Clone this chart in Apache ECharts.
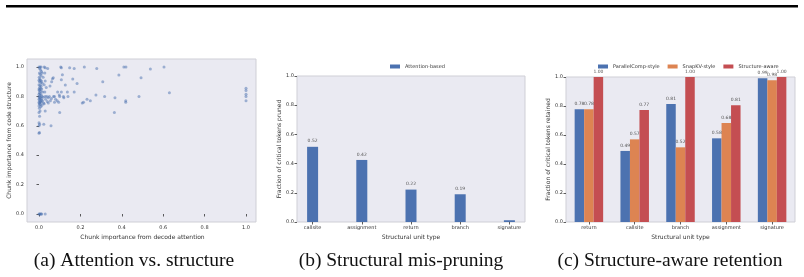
<!DOCTYPE html>
<html>
<head>
<meta charset="utf-8">
<script src="https://cdn.jsdelivr.net/npm/echarts@6/dist/echarts.min.js"></script>
<style>
  html, body { margin: 0; padding: 0; background: #fff; }
  #main { width: 804px; height: 277px; }
</style>
</head>
<body>
<div id="main"></div>
<script>
// (a) chunk importance: [decode attention, code structure]
var attnVsStruct = [
    [0, 1.0], [0.005, 1.0], [0.01, 1.0], [0.003, 0.99], [0.008, 0.98], [0.012, 0.97], [0.002, 0.96],
    [0.015, 0.96], [0.006, 0.95], [0.01, 0.94], [0.001, 0.93], [0.02, 0.93], [0.004, 0.92], [0, 0.91],
    [0.007, 0.91], [0.012, 0.905], [0.002, 0.9], [0.009, 0.895], [0.016, 0.89], [0, 0.88], [0.005, 0.875],
    [0.011, 0.87], [0.003, 0.86], [0.008, 0.855], [0, 0.85], [0.013, 0.85], [0.004, 0.845], [0.001, 0.84],
    [0.009, 0.835], [0.018, 0.83], [0.002, 0.825], [0.006, 0.82], [0, 0.815], [0.011, 0.81], [0.004, 0.805],
    [0.015, 0.8], [0, 0.8], [0.007, 0.795], [0.02, 0.795], [0.002, 0.79], [0.01, 0.785], [0, 0.78],
    [0.005, 0.78], [0.013, 0.775], [0.003, 0.77], [0.017, 0.77], [0.008, 0.765], [0, 0.76], [0.011, 0.76],
    [0.004, 0.755], [0.022, 0.755], [0.001, 0.75], [0.006, 0.745], [0.014, 0.74], [0, 0.735], [0.009, 0.73],
    [0.002, 0.72], [0.005, 0.7], [0, 0.69], [0.003, 0.665], [0, 0.62], [0.003, 0.61], [0, 0.6],
    [0.002, 0.555], [0, 0.55],
    [0.025, 1.0], [0.03, 0.995], [0.042, 0.99], [0.028, 0.96], [0.03, 0.905], [0.025, 0.88], [0.035, 0.86],
    [0.028, 0.83], [0.03, 0.8], [0.032, 0.78], [0.04, 0.765], [0.045, 0.755], [0.025, 0.75], [0.038, 0.8],
    [0.05, 0.8], [0.055, 0.77], [0.053, 0.87], [0.061, 0.9], [0.069, 0.927], [0.065, 0.92], [0.058, 0.6],
    [0.023, 0.61], [0.03, 0.7], [0.045, 0.79], [0.06, 0.785], [0.07, 0.8], [0.075, 0.8],
    [0.088, 0.77], [0.098, 0.81], [0.1, 0.8], [0.1, 0.69], [0.105, 1.0], [0.108, 0.995], [0.108, 0.914],
    [0.113, 0.948], [0.108, 0.83], [0.118, 0.8], [0.127, 0.878], [0.137, 0.83], [0.148, 0.995], [0.163, 0.918],
    [0.17, 0.99], [0.17, 0.83], [0.184, 0.887], [0.09, 0.83], [0.095, 0.76], [0.12, 0.79], [0.14, 0.8],
    [0.08, 0.78], [0.075, 0.76],
    [0.209, 0.755], [0.215, 0.76], [0.219, 1.0], [0.232, 0.78], [0.248, 0.77], [0.275, 0.81], [0.279, 0.99],
    [0.308, 0.9], [0.317, 0.8], [0.364, 0.69], [0.367, 0.79], [0.386, 0.946], [0.41, 1.0], [0.42, 1.0],
    [0.419, 0.77], [0.419, 0.76], [0.483, 0.8], [0.493, 0.927], [0.538, 0.986], [0.604, 1.0], [0.63, 0.825],
    [1, 0.855], [1, 0.84], [1, 0.815], [1, 0.8], [1, 0.77],
    [0, 0], [0.003, 0], [0.006, 0], [0.01, 0], [0.013, 0], [0.03, 0]
];

// (b) structural mis-pruning
var unitsB = ['callsite', 'assignment', 'return', 'branch', 'signature'];
var prunedAttn = [0.515, 0.425, 0.222, 0.19, 0.012];

// (c) structure-aware retention
var unitsC = ['return', 'callsite', 'branch', 'assignment', 'signature'];
var keptParallel = [0.778, 0.49, 0.814, 0.577, 0.992];
var keptSnapKV = [0.778, 0.57, 0.515, 0.683, 0.978];
var keptStruct = [1.0, 0.772, 1.0, 0.805, 1.0];

var BLUE = '#4C72B0', ORANGE = '#DD8452', RED = '#C44E52';
var BG = '#EAEAF2', EDGE = '#cfcfd6', INK = '#333333';
var FONT = 'DejaVu Sans';
var CAPTION = '19.5px "Liberation Serif"';

var myChart = echarts.init(document.getElementById('main'), null, { renderer: 'canvas' });

function tickAxis(extra) {
    var base = {
        axisLine: { show: false },
        axisTick: { show: true, length: 2.5, lineStyle: { color: INK, width: 0.8 } },
        axisLabel: { fontSize: 5, color: INK, fontFamily: FONT, margin: 3 },
        splitLine: { show: false },
        nameTextStyle: { fontSize: 6, color: INK, fontFamily: FONT },
        nameLocation: 'middle'
    };
    for (var k in extra) base[k] = extra[k];
    return base;
}

function fmt1(v) { return v.toFixed(1); }
// tiny bars get no value label, as in the original
function lbl2(p) { return p.value < 0.05 ? '' : p.value.toFixed(2); }

var valueLabel = {
    show: true, position: 'top', distance: 3, fontSize: 4.5, color: '#555',
    fontFamily: FONT, formatter: lbl2
};
var catTick = { show: true, alignWithLabel: true, length: 2.5, lineStyle: { color: INK, width: 0.8 } };
var numLabel = { fontSize: 5, color: INK, fontFamily: FONT, margin: 3, formatter: fmt1 };

myChart.setOption({
    animation: false,
    grid: [
        // (a) frame and inner data area
        { left: 27, top: 59, width: 229, height: 163, show: true, backgroundColor: BG, borderColor: EDGE, borderWidth: 1 },
        { left: 39, top: 67, width: 207, height: 147 },
        // (b) frame and band area
        { left: 297, top: 76, width: 228, height: 146, show: true, backgroundColor: BG, borderColor: EDGE, borderWidth: 1 },
        { left: 288, top: 76, width: 246, height: 146 },
        // (c)
        { left: 566, top: 77, width: 229, height: 145, show: true, backgroundColor: BG, borderColor: EDGE, borderWidth: 1 }
    ],
    xAxis: [
        { gridIndex: 0, type: 'value', show: false, min: 0, max: 1 },
        tickAxis({ gridIndex: 1, type: 'value', min: 0, max: 1, interval: 0.2, offset: 8, axisLabel: numLabel,
            name: 'Chunk importance from decode attention', nameGap: 9 }),
        { gridIndex: 2, type: 'value', show: false, min: 0, max: 1 },
        tickAxis({ gridIndex: 3, type: 'category', data: unitsB, axisTick: catTick,
            name: 'Structural unit type', nameGap: 11 }),
        tickAxis({ gridIndex: 4, type: 'category', data: unitsC, axisTick: catTick,
            name: 'Structural unit type', nameGap: 11 })
    ],
    yAxis: [
        { gridIndex: 0, type: 'value', show: false, min: 0, max: 1 },
        tickAxis({ gridIndex: 1, type: 'value', min: 0, max: 1, interval: 0.2, offset: 12, axisLabel: numLabel,
            name: 'Chunk importance from code structure', nameGap: 13 }),
        tickAxis({ gridIndex: 2, type: 'value', min: 0, max: 1, interval: 0.2, axisLabel: numLabel,
            name: 'Fraction of critical tokens pruned', nameGap: 12 }),
        { gridIndex: 3, type: 'value', show: false, min: 0, max: 1 },
        tickAxis({ gridIndex: 4, type: 'value', min: 0, max: 1, interval: 0.2, axisLabel: numLabel,
            name: 'Fraction of critical tokens retained', nameGap: 12 })
    ],
    legend: [
        { data: ['Attention-based'], left: 385, top: 59, icon: 'rect', itemWidth: 10, itemHeight: 4,
            textStyle: { fontSize: 5, color: INK, fontFamily: FONT } },
        { data: ['ParallelComp-style', 'SnapKV-style', 'Structure-aware'], left: 593, top: 59, icon: 'rect',
            itemWidth: 10, itemHeight: 4, itemGap: 8, textStyle: { fontSize: 5, color: INK, fontFamily: FONT } }
    ],
    series: [
        {
            type: 'scatter', xAxisIndex: 1, yAxisIndex: 1, data: attnVsStruct, clip: false,
            symbolSize: 3, itemStyle: { color: BLUE, opacity: 0.5 }
        },
        {
            name: 'Attention-based', type: 'bar', xAxisIndex: 3, yAxisIndex: 3, data: prunedAttn,
            barWidth: 11, itemStyle: { color: BLUE }, label: valueLabel
        },
        {
            name: 'ParallelComp-style', type: 'bar', xAxisIndex: 4, yAxisIndex: 4, data: keptParallel,
            barWidth: 9.5, barGap: '0%', itemStyle: { color: BLUE }, label: valueLabel
        },
        {
            name: 'SnapKV-style', type: 'bar', xAxisIndex: 4, yAxisIndex: 4, data: keptSnapKV,
            barWidth: 9.5, barGap: '0%', itemStyle: { color: ORANGE }, label: valueLabel
        },
        {
            name: 'Structure-aware', type: 'bar', xAxisIndex: 4, yAxisIndex: 4, data: keptStruct,
            barWidth: 9.5, barGap: '0%', itemStyle: { color: RED }, label: valueLabel
        }
    ],
    graphic: [
        { type: 'rect', shape: { x: 6, y: 5, width: 792, height: 2.5 }, style: { fill: '#000' } },
        { type: 'text', x: 134, y: 261, style: { text: '(a) Attention vs. structure', font: CAPTION, fill: '#111', align: 'center', verticalAlign: 'middle' } },
        { type: 'text', x: 401, y: 261, style: { text: '(b) Structural mis-pruning', font: CAPTION, fill: '#111', align: 'center', verticalAlign: 'middle' } },
        { type: 'text', x: 670, y: 261, style: { text: '(c) Structure-aware retention', font: CAPTION, fill: '#111', align: 'center', verticalAlign: 'middle' } }
    ]
});
</script>
</body>
</html>
